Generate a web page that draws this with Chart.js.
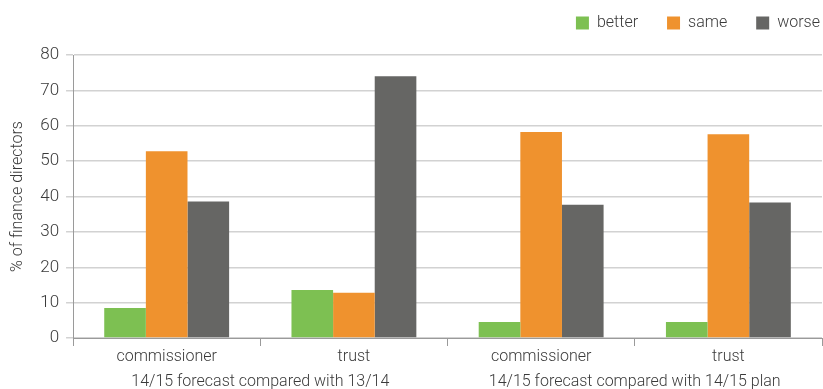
<!DOCTYPE html>
<html>
<head>
<meta charset="utf-8">
<script src="https://cdn.jsdelivr.net/npm/chart.js@4/dist/chart.umd.min.js"></script>
<style>
  body { margin: 0; background: #fff; }
  #wrap { width: 823px; height: 389px; position: relative; }
</style>
</head>
<body>
<div id="wrap"><canvas id="myChart"></canvas></div>
<script>
// categories and groups
const categories = ['commissioner', 'trust', 'commissioner', 'trust'];
const groups = ['14/15 forecast compared with 13/14', '14/15 forecast compared with 14/15 plan'];

// series values (% of finance directors)
const better = [8.5, 13.6, 4.5, 4.5];
const same = [52.8, 12.8, 58.2, 57.6];
const worse = [38.6, 74.0, 37.7, 38.3];

const yTicks = [0, 10, 20, 30, 40, 50, 60, 70, 80];

const textColor = '#3a3a3a';
const fontFamily = "'Roboto', 'Liberation Sans', sans-serif";

// move the legend up and to the right edge, keeping the chart area where it is
const legendShift = {
    id: 'legendShift',
    afterLayout(chart) {
        var lg = chart.legend;
        lg.left += 27; lg.right += 27;
        lg.top -= 14; lg.bottom -= 14;
    }
};

const ctx = document.getElementById('myChart').getContext('2d');
const myChartObj = new Chart(ctx, {
    type: 'bar',
    data: {
        labels: categories,
        datasets: [
            { label: 'better', data: better, backgroundColor: '#7dc052', borderWidth: 0 },
            { label: 'same', data: same, backgroundColor: '#ef922e', borderWidth: 0 },
            { label: 'worse', data: worse, backgroundColor: '#666664', borderWidth: 0 }
        ]
    },
    plugins: [legendShift],
    options: {
        responsive: true,
        maintainAspectRatio: false,
        animation: false,
        datasets: { bar: { barPercentage: 1, categoryPercentage: 0.667 } },
        layout: { padding: { left: 8, right: 1, top: 0, bottom: -7 } },
        plugins: {
            tooltip: { enabled: false },
            legend: {
                position: 'top',
                align: 'end',
                labels: {
                    boxWidth: 13,
                    boxHeight: 13,
                    padding: 29,
                    color: textColor,
                    font: { family: fontFamily, size: 16, weight: 300 }
                }
            }
        },
        scales: {
            x: {
                type: 'category',
                position: 'bottom',
                offset: true,
                border: { display: true, color: '#9a9a9a', width: 1 },
                grid: { offset: true, drawOnChartArea: false, drawTicks: true, tickLength: 8, color: '#9a9a9a' },
                ticks: { color: textColor, padding: 1, font: { family: fontFamily, size: 16, weight: 300 } }
            },
            x2: {
                type: 'category',
                position: 'bottom',
                labels: groups,
                offset: true,
                border: { display: false },
                grid: { display: false, drawTicks: false },
                ticks: { color: textColor, padding: 8, font: { family: fontFamily, size: 16, weight: 300, lineHeight: 0.8 } }
            },
            y: {
                min: 0,
                max: 80,
                afterBuildTicks: axis => { axis.ticks = yTicks.map(v => ({ value: v })); },
                border: { display: true, color: '#9a9a9a', width: 1 },
                grid: { color: '#d2d2d2', lineWidth: 1.5, tickLength: 7 },
                ticks: { color: textColor, padding: 7, font: { family: fontFamily, size: 17, weight: 300 } },
                title: {
                    display: true,
                    text: '% of finance directors',
                    color: textColor,
                    padding: { top: 0, bottom: 6 },
                    font: { family: fontFamily, size: 16, weight: 300 }
                }
            }
        }
    }
});
</script>
</body>
</html>
